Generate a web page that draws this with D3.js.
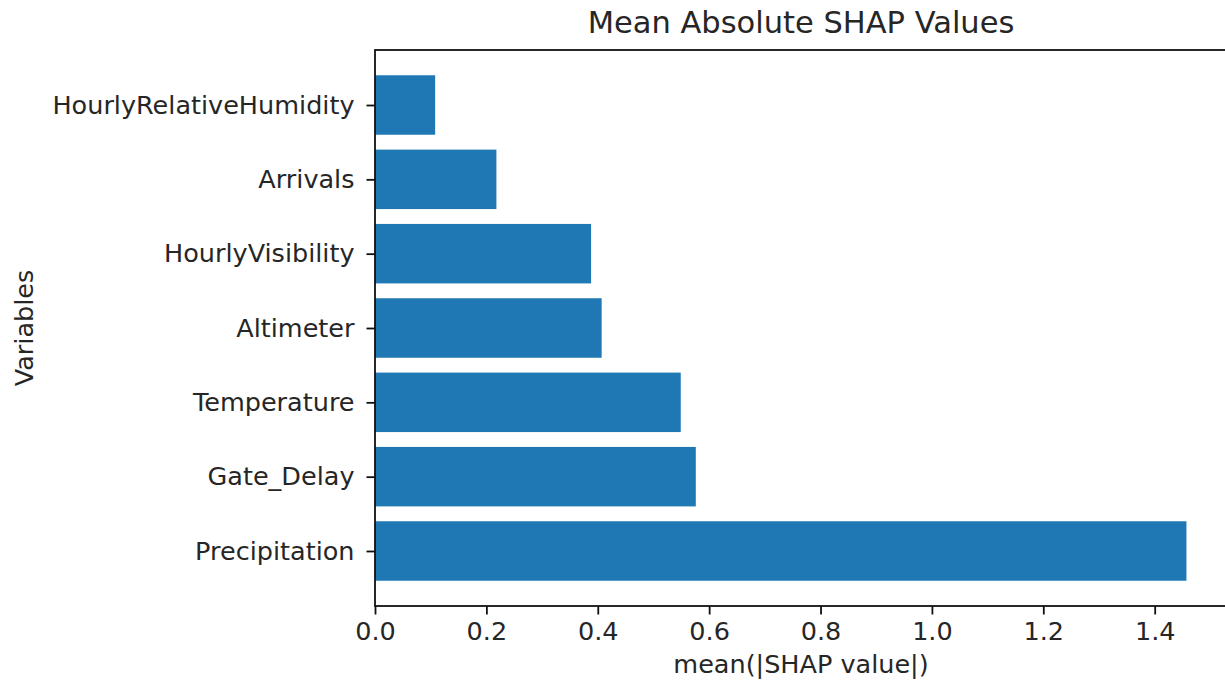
<!DOCTYPE html>
<html>
<head>
<meta charset="utf-8">
<script src="https://cdn.jsdelivr.net/npm/d3@7"></script>
<style>
  html, body { margin: 0; padding: 0; background: #fff; }
  svg { display: block; }
  text { font-family: "DejaVu Sans", sans-serif; fill: #262626; }
</style>
</head>
<body>
<svg id="chart" width="1225" height="690"></svg>
<script>
const categories = ["Precipitation", "Gate_Delay", "Temperature", "Altimeter", "HourlyVisibility", "Arrivals", "HourlyRelativeHumidity"];
const values = [1.457, 0.576, 0.549, 0.407, 0.388, 0.218, 0.108];
const xTicks = [0.0, 0.2, 0.4, 0.6, 0.8, 1.0, 1.2, 1.4];
const title = "Mean Absolute SHAP Values";
const xLabel = "mean(|SHAP value|)";
const yLabel = "Variables";

const svg = d3.select("#chart");
const margin = { left: 375, top: 50, right: 1227, bottom: 606 };

const xMax = d3.max(values) * 1.05;
const x = d3.scaleLinear().domain([0, xMax]).range([margin.left, margin.right]);
const n = categories.length;
const barH = 0.8;
const pad = (n - 1 + barH) * 0.05;
const y = d3.scaleLinear()
  .domain([-barH / 2 - pad, n - 1 + barH / 2 + pad])
  .range([margin.bottom, margin.top]);

// bars
svg.append("g").selectAll("rect").data(values).join("rect")
  .attr("x", x(0))
  .attr("y", (d, i) => y(i + barH / 2))
  .attr("width", d => x(d) - x(0))
  .attr("height", (d, i) => y(i - barH / 2) - y(i + barH / 2))
  .attr("fill", "#1f77b4");

const fontSize = 25.5;
// x axis
const xAxis = d3.axisBottom(x).tickValues(xTicks).tickFormat(d3.format(".1f")).tickSize(8.5).tickPadding(7);
const gx = svg.append("g").attr("transform", `translate(0,${margin.bottom})`).call(xAxis);
gx.select(".domain").remove();
gx.selectAll(".tick line").attr("stroke", "#111").attr("stroke-width", 1.8);
gx.selectAll(".tick text").attr("font-size", fontSize).attr("font-family", "DejaVu Sans").attr("fill", "#262626");

// y axis
const yAxis = d3.axisLeft(y).tickValues(d3.range(n)).tickFormat(i => categories[i]).tickSize(8.5).tickPadding(12);
const gy = svg.append("g").attr("transform", `translate(${margin.left},0)`).call(yAxis);
gy.select(".domain").remove();
gy.selectAll(".tick line").attr("stroke", "#111").attr("stroke-width", 1.8);
gy.selectAll(".tick text").attr("font-size", fontSize).attr("font-family", "DejaVu Sans").attr("fill", "#262626");

// spines
const sp = svg.append("g").attr("fill", "none").attr("stroke", "#111").attr("stroke-width", 1.8);
sp.append("rect")
  .attr("x", margin.left).attr("y", margin.top)
  .attr("width", margin.right - margin.left).attr("height", margin.bottom - margin.top);

// title
svg.append("text").attr("x", (margin.left + margin.right) / 2).attr("y", 33)
  .attr("text-anchor", "middle").attr("font-size", 30.5).text(title);

// x label
svg.append("text").attr("x", (margin.left + margin.right) / 2).attr("y", 673)
  .attr("text-anchor", "middle").attr("font-size", fontSize).text(xLabel);

// y label
svg.append("text").attr("transform", `translate(33,${(margin.top + margin.bottom) / 2}) rotate(-90)`)
  .attr("text-anchor", "middle").attr("font-size", fontSize).text(yLabel);
</script>
</body>
</html>
